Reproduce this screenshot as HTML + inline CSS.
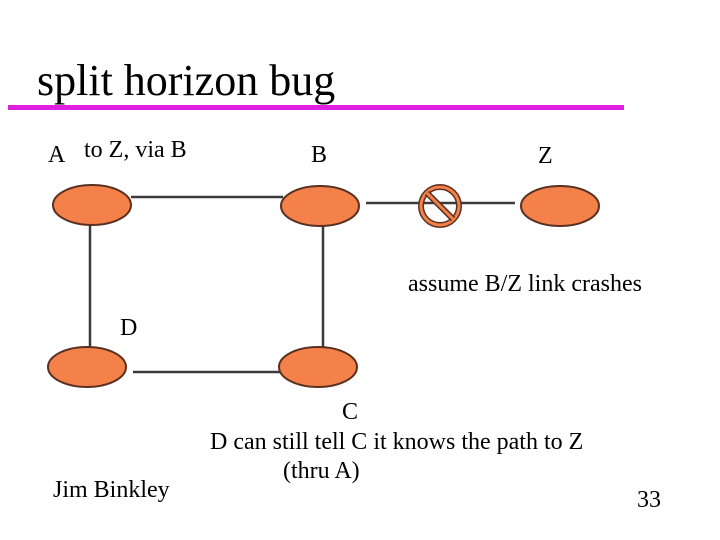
<!DOCTYPE html><html><head><style>body{margin:0;background:#fff}svg{display:block}text{font-family:"Liberation Serif",serif;fill:#000}</style></head><body>
<svg width="720" height="540" viewBox="0 0 720 540">
<text x="37" y="95" font-size="44">split horizon bug</text>
<rect x="8" y="105" width="616" height="5" fill="#e020e0"/>
<g stroke="#3b3b3b" stroke-width="2.5" fill="none">
<line x1="131" y1="197" x2="283" y2="197"/>
<line x1="366" y1="203" x2="515" y2="203"/>
<line x1="90" y1="222" x2="90" y2="348"/>
<line x1="323" y1="226" x2="323" y2="348"/>
<line x1="133" y1="372" x2="280" y2="372"/>
</g>
<g fill="#f4804a" stroke="#5a3020" stroke-width="2">
<ellipse cx="92" cy="205" rx="39" ry="20"/>
<ellipse cx="320" cy="206" rx="39" ry="20"/>
<ellipse cx="560" cy="206" rx="39" ry="20"/>
<ellipse cx="87" cy="367" rx="39" ry="20"/>
<ellipse cx="318" cy="367" rx="39" ry="20"/>
</g>
<circle cx="440" cy="206" r="19" fill="none" stroke="#5a3020" stroke-width="6"/>
<circle cx="440" cy="206" r="19" fill="none" stroke="#f4804a" stroke-width="3"/>
<line x1="427" y1="193" x2="453" y2="219" stroke="#5a3020" stroke-width="6"/>
<line x1="427" y1="193" x2="453" y2="219" stroke="#f4804a" stroke-width="3"/>
<g font-size="24">
<text x="48" y="162">A</text>
<text x="84" y="157">to Z, via B</text>
<text x="311" y="162">B</text>
<text x="538" y="163">Z</text>
<text x="408" y="291">assume B/Z link crashes</text>
<text x="120" y="335">D</text>
<text x="342" y="419">C</text>
<text x="210" y="449">D can still tell C it knows the path to Z</text>
<text x="283" y="478">(thru A)</text>
<text x="53" y="497">Jim Binkley</text>
<text x="637" y="507">33</text>
</g>
</svg></body></html>
